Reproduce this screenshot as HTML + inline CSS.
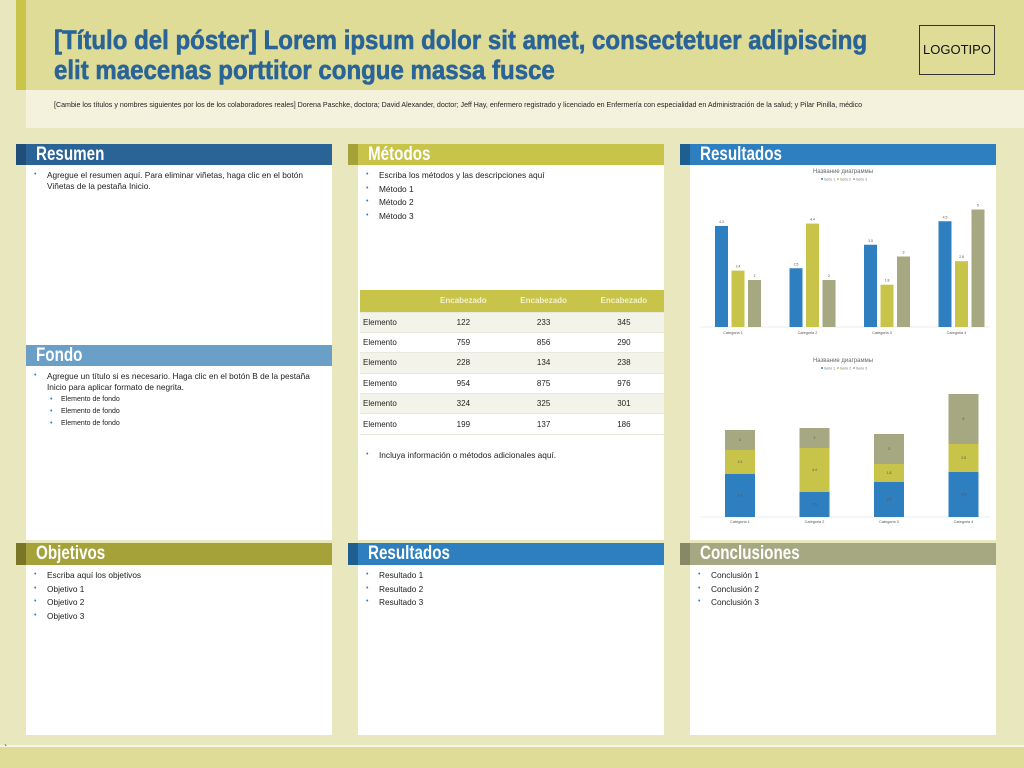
<!DOCTYPE html>
<html><head><meta charset="utf-8">
<style>
*{margin:0;padding:0;box-sizing:border-box}
body{width:1024px;height:768px;background:#e9e7bd;position:relative;overflow:hidden;font-family:"Liberation Sans",sans-serif}
.abs{position:absolute}
.hd{position:absolute;height:21px;color:#fff;font-weight:bold;font-size:19px;line-height:21px;padding-left:10px;white-space:nowrap;overflow:hidden}
.hd span{display:inline-block;transform:scaleX(0.8);transform-origin:left center}
.panel{position:absolute;background:#fff}
ul{list-style:none;font-size:8.3px;color:#222;line-height:10.5px}
li{position:relative;padding-left:21px;margin-bottom:3px}
li:before{content:"•";position:absolute;left:8px;color:#2e7fbf;font-size:7px}
li.sub{padding-left:35px;font-size:7px;margin-bottom:1.5px}
li.sub:before{left:24px}
table{border-collapse:collapse;font-size:8px;color:#222}
td{height:20.4px;border-bottom:1px solid #e8e8dc;text-align:center}
td:first-child{text-align:left;padding-left:3px}
</style></head><body>
<div class="abs" style="left:26px;top:0;width:998px;height:90px;background:#dfdc98"></div>
<div class="abs" style="left:16px;top:0;width:10px;height:90px;background:#c9c44a"></div>
<div class="abs" style="left:26px;top:90px;width:998px;height:38px;background:#f4f2dc"></div>
<div class="abs" style="left:54px;top:25px;width:1200px;font-weight:bold;font-size:27px;line-height:30px;color:#2a6496;transform:scaleX(0.89);transform-origin:left top;white-space:nowrap;-webkit-text-stroke:0.6px #2a6496">[Título del póster] Lorem ipsum dolor sit amet, consectetuer adipiscing<br>elit maecenas porttitor congue massa fusce</div>
<div class="abs" style="left:54px;top:101px;font-size:7.1px;color:#222;white-space:nowrap">[Cambie los títulos y nombres siguientes por los de los colaboradores reales] Dorena Paschke, doctora; David Alexander, doctor; Jeff Hay, enfermero registrado y licenciado en Enfermería con especialidad en Administración de la salud; y Pilar Pinilla, médico</div>
<div class="abs" style="left:919px;top:25px;width:76px;height:50px;border:1px solid #333;font-size:13px;line-height:48px;text-align:center;color:#111">LOGOTIPO</div>

<div class="panel" style="left:26px;top:165px;width:306px;height:180px"></div>
<div class="abs" style="left:16px;top:144px;width:10px;height:21px;background:#1f4e78"></div>
<div class="hd" style="left:26px;top:144px;width:306px;background:#2a6496"><span>Resumen</span></div>
<ul class="abs" style="left:26px;top:170px;width:290px"><li>Agregue el resumen aquí. Para eliminar viñetas, haga clic en el botón Viñetas de la pestaña Inicio.</li></ul>

<div class="panel" style="left:26px;top:366px;width:306px;height:174px"></div>
<div class="hd" style="left:26px;top:345px;width:306px;background:#6aa0c8"><span>Fondo</span></div>
<ul class="abs" style="left:26px;top:371px;width:290px"><li>Agregue un título si es necesario. Haga clic en el botón B de la pestaña Inicio para aplicar formato de negrita.</li><li class="sub">Elemento de fondo</li><li class="sub">Elemento de fondo</li><li class="sub">Elemento de fondo</li></ul>

<div class="panel" style="left:26px;top:565px;width:306px;height:170px"></div>
<div class="abs" style="left:16px;top:543px;width:10px;height:22px;background:#7a7628"></div>
<div class="hd" style="left:26px;top:543px;width:306px;height:22px;background:#a6a23a"><span>Objetivos</span></div>
<ul class="abs" style="left:26px;top:570px"><li>Escriba aquí los objetivos</li><li>Objetivo 1</li><li>Objetivo 2</li><li>Objetivo 3</li></ul>

<div class="panel" style="left:358px;top:165px;width:306px;height:375px"></div>
<div class="abs" style="left:348px;top:144px;width:10px;height:21px;background:#a6a23a"></div>
<div class="hd" style="left:358px;top:144px;width:306px;background:#c8c44a"><span>Métodos</span></div>
<ul class="abs" style="left:358px;top:170px"><li>Escriba los métodos y las descripciones aquí</li><li>Método 1</li><li>Método 2</li><li>Método 3</li></ul>
<table class="abs" style="left:360px;top:290px;width:304px">
<tr style="background:#c8c44a;color:#f4f2c8;font-weight:bold"><td style="height:22px"></td><td>Encabezado</td><td>Encabezado</td><td>Encabezado</td></tr>
<tr style="background:#f4f3ea"><td>Elemento</td><td>122</td><td>233</td><td>345</td></tr>
<tr><td>Elemento</td><td>759</td><td>856</td><td>290</td></tr>
<tr style="background:#f4f3ea"><td>Elemento</td><td>228</td><td>134</td><td>238</td></tr>
<tr><td>Elemento</td><td>954</td><td>875</td><td>976</td></tr>
<tr style="background:#f4f3ea"><td>Elemento</td><td>324</td><td>325</td><td>301</td></tr>
<tr><td>Elemento</td><td>199</td><td>137</td><td>186</td></tr>
</table>
<ul class="abs" style="left:358px;top:450px"><li>Incluya información o métodos adicionales aquí.</li></ul>

<div class="panel" style="left:358px;top:565px;width:306px;height:170px"></div>
<div class="abs" style="left:348px;top:543px;width:10px;height:22px;background:#1f5f8f"></div>
<div class="hd" style="left:358px;top:543px;width:306px;height:22px;background:#2e7fbf"><span>Resultados</span></div>
<ul class="abs" style="left:358px;top:570px"><li>Resultado 1</li><li>Resultado 2</li><li>Resultado 3</li></ul>

<div class="panel" style="left:690px;top:165px;width:306px;height:375px"></div>
<div class="abs" style="left:680px;top:144px;width:10px;height:21px;background:#1f5f8f"></div>
<div class="hd" style="left:690px;top:144px;width:306px;background:#2e7fbf"><span>Resultados</span></div>
<svg class="abs" id="charts" style="left:0;top:0" width="1024" height="768"></svg>

<div class="panel" style="left:690px;top:565px;width:306px;height:170px"></div>
<div class="abs" style="left:680px;top:543px;width:10px;height:22px;background:#868866"></div>
<div class="hd" style="left:690px;top:543px;width:306px;height:22px;background:#a6a882"><span>Conclusiones</span></div>
<ul class="abs" style="left:690px;top:570px"><li>Conclusión 1</li><li>Conclusión 2</li><li>Conclusión 3</li></ul>

<div class="abs" style="left:0;top:745px;width:1024px;height:2px;background:#f6f5e4"></div>
<div class="abs" style="left:0;top:747px;width:1024px;height:21px;background:#dfdc98"></div>
<div class="abs" style="left:4px;top:744px;font-size:10px;color:#222">`</div>

<script>
const categories=["Categoria 1","Categoria 2","Categoria 3","Categoria 4"];
const serie1=[4.3,2.5,3.5,4.5];
const serie2=[2.4,4.4,1.8,2.8];
const serie3=[2,2,3,5];
const seriesNames=["Serie 1","Serie 2","Serie 3"];
const colors=["#2e7fbf","#c8c44a","#a6a882"];
const svg=document.getElementById('charts');
const NS="http://www.w3.org/2000/svg";
function mk(t,a,txt){const e=document.createElementNS(NS,t);for(const k in a)e.setAttribute(k,a[k]);if(txt!==undefined)e.textContent=txt;svg.appendChild(e);return e;}
const series=[serie1,serie2,serie3];
const cx=i=>740+i*74.5;
function header(y){
  const t=mk('text',{x:843,y:y,'font-size':6,fill:'#666','text-anchor':'middle','font-family':'Liberation Sans'},'Название диаграммы');
  
  seriesNames.forEach((n,k)=>{
    const lx=822+k*16;
    const d=mk('circle',{cx:lx,cy:y+6,r:1,fill:colors[k]});
    
    const l=mk('text',{x:lx+2,y:y+7.5,'font-size':3.5,fill:'#777','font-family':'Liberation Sans'},n);
    
  });
}
header(173);
const base1=327, k1=23.5;
const y1=v=>base1-v*k1;
mk('line',{x1:700,x2:990,y1:base1,y2:base1,stroke:'#ddd','stroke-width':0.5});
categories.forEach((c,i)=>{
  series.forEach((s,k)=>{
    const x=cx(i)-25+k*16.5;
    const r=mk('rect',{x:x,y:y1(s[i]),width:13,height:base1-y1(s[i]),fill:colors[k]});
    
    const t=mk('text',{x:x+6.5,y:y1(s[i])-3,'font-size':3.5,fill:'#555','text-anchor':'middle','font-family':'Liberation Sans'},String(s[i]));
    
  });
  const l=mk('text',{x:cx(i)-7,y:base1+7,'font-size':3.8,fill:'#555','text-anchor':'middle','font-family':'Liberation Sans'},c);
  
});
header(362);
const base2=517, k2=10;
const y2=v=>base2-v*k2;
mk('line',{x1:700,x2:990,y1:base2,y2:base2,stroke:'#ddd','stroke-width':0.5});
categories.forEach((c,i)=>{
  let acc=0;
  series.forEach((s,k)=>{
    const top=y2(acc+s[i]);const bot=y2(acc);
    const r=mk('rect',{x:cx(i)-15,y:top,width:30,height:bot-top,fill:colors[k]});
    
    const t=mk('text',{x:cx(i),y:(top+bot)/2+1,'font-size':3.5,fill:'#555','text-anchor':'middle','font-family':'Liberation Sans'},String(s[i]));
    
    acc+=s[i];
  });
  const l=mk('text',{x:cx(i),y:base2+6,'font-size':3.8,fill:'#555','text-anchor':'middle','font-family':'Liberation Sans'},c);
  
});
</script>
</body></html>
